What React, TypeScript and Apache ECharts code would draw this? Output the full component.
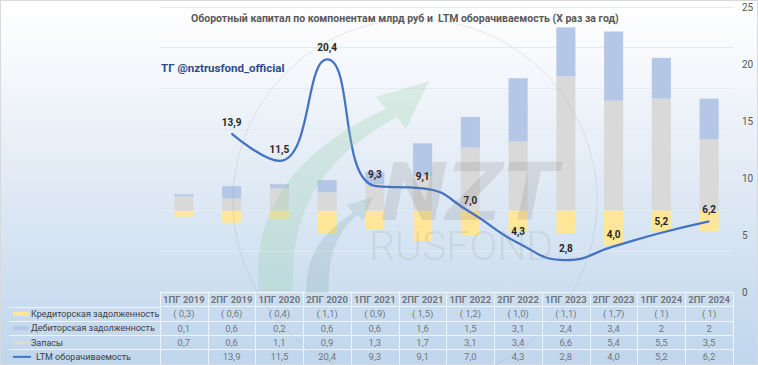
import React, { useEffect, useRef } from 'react';
import * as echarts from 'echarts';

const categories = ['1ПГ 2019', '2ПГ 2019', '1ПГ 2020', '2ПГ 2020', '1ПГ 2021', '2ПГ 2021', '1ПГ 2022', '2ПГ 2022', '1ПГ 2023', '2ПГ 2023', '1ПГ 2024', '2ПГ 2024'];
// Кредиторская задолженность (shown negative)
const payablesText = ['0,3', '0,6', '0,4', '1,1', '0,9', '1,5', '1,2', '1,0', '1,1', '1,7', '1', '1'];
const receivablesText = ['0,1', '0,6', '0,2', '0,6', '0,6', '1,6', '1,5', '3,1', '2,4', '3,4', '2', '2'];
const inventoryText = ['0,7', '0,6', '1,1', '0,9', '1,3', '1,7', '3,1', '3,4', '6,6', '5,4', '5,5', '3,5'];
const turnoverText = ['', '13,9', '11,5', '20,4', '9,3', '9,1', '7,0', '4,3', '2,8', '4,0', '5,2', '6,2'];
const rowNames = ['Кредиторская задолженность', 'Дебиторская задолженность', 'Запасы', 'LTM оборачиваемость'];
const tableRows = ['hdr', 'r0', 'r1', 'r2', 'r3'];

const num = (s: string) => (s === '' ? null : parseFloat(s.replace(',', '.')));
const payables = payablesText.map((s) => -(num(s) as number));
const receivables = receivablesText.map(num);
const inventory = inventoryText.map(num);
const turnover = turnoverText.map(num);

const C_YELLOW = '#FFE699';
const C_BLUE = '#B4C7E7';
const C_GRAY = '#D9D9D9';
const C_LINE = '#4472C4';
const FONT = 'Roboto, "Noto Sans", sans-serif';

echarts.graphic.registerShape(
  'swooshA',
  echarts.graphic.extendPath('M258,290 C250,215 290,150 385,108 L375,96 L428,80 L405,128 L396,116 C318,158 288,215 292,290 Z', {})
);
echarts.graphic.registerShape(
  'swooshB',
  echarts.graphic.extendPath('M305,292 C305,255 320,232 352,212 L346,204 L372,196 L362,220 L357,214 C335,230 326,258 328,292 Z', {})
);

function cellSeries(row: string, texts: string[], opts: any = {}) {
  return {
    type: 'scatter',
    xAxisIndex: 1,
    yAxisIndex: 2,
    symbolSize: 1,
    silent: true,
    itemStyle: { color: 'rgba(0,0,0,0)' },
    data: texts.map((t, i) => ({ value: [i, row], name: t })),
    label: {
      show: true,
      position: 'inside',
      formatter: (p: any) => p.name,
      color: '#595959',
      fontSize: 9.5,
      fontFamily: FONT,
      ...opts,
    },
  };
}

export default function App() {
  const ref = useRef<HTMLDivElement>(null);
  useEffect(() => {
    document.body.style.margin = '0';
    const chart = echarts.init(ref.current!, null, { renderer: 'svg' });
    const gridLine = { show: true, lineStyle: { color: 'rgba(255,255,255,0.7)', width: 1 } };
    const option: any = {
      animation: false,
      title: {
        text: 'Оборотный капитал по компонентам млрд руб и  LTM оборачиваемость (X раз за год)',
        left: 190,
        top: 12,
        padding: 0,
        textStyle: { fontSize: 10.5, fontWeight: 'bold', color: '#595959', fontFamily: FONT },
      },
      grid: [
        { left: 159, right: 24, top: 6, height: 285 },
        { left: 159, right: 24, top: 291, height: 74 },
        { left: 8, width: 151, top: 305.8, height: 59.2 },
      ],
      xAxis: [
        { type: 'category', gridIndex: 0, data: categories, axisLine: { show: false }, axisTick: { show: false }, axisLabel: { show: false } },
        { type: 'category', gridIndex: 1, data: categories, axisLine: { show: false }, axisTick: { show: false }, axisLabel: { show: false }, splitLine: { ...gridLine, interval: 0 } },
        { type: 'value', gridIndex: 2, show: false },
      ],
      yAxis: [
        {
          type: 'value', gridIndex: 0, min: -4, max: 10, interval: 2,
          axisLabel: { show: false }, axisLine: { show: false }, axisTick: { show: false },
          splitLine: { show: true, lineStyle: { color: '#e4eaf2', width: 1 } },
        },
        {
          type: 'value', gridIndex: 0, position: 'right', min: 0, max: 25, interval: 5,
          axisLine: { show: false }, axisTick: { show: false }, splitLine: { show: false },
          axisLabel: { color: '#595959', fontSize: 10, fontFamily: FONT, margin: 9 },
        },
        {
          type: 'category', gridIndex: 1, data: tableRows, inverse: true,
          axisLabel: { show: false }, axisLine: { show: false }, axisTick: { show: false }, splitLine: { ...gridLine, interval: 0 },
        },
        {
          type: 'category', gridIndex: 2, data: rowNames, inverse: true,
          axisLine: { show: false }, axisTick: { show: false }, splitLine: { ...gridLine, interval: 0 },
          axisLabel: {
            inside: true,
            interval: 0,
            margin: 4,
            formatter: (v: string, i: number) => (i === 3 ? `{k3|}{t3|${v}}` : `{k${i}|}{t|${v}}`),
            rich: {
              k0: { width: 16, height: 4, backgroundColor: C_YELLOW },
              k1: { width: 16, height: 4, backgroundColor: C_BLUE },
              k2: { width: 16, height: 4, backgroundColor: C_GRAY },
              k3: { width: 18, height: 2, backgroundColor: C_LINE },
              t: { fontSize: 9, color: '#404040', fontFamily: FONT, padding: [0, 0, 0, 2] },
              t3: { fontSize: 9, color: '#404040', fontFamily: FONT, padding: [0, 0, 0, 5] },
            },
          },
        },
      ],
      series: [
        { name: rowNames[0], type: 'bar', stack: 'wc', data: payables, barWidth: '40%', itemStyle: { color: C_YELLOW } },
        { name: rowNames[2], type: 'bar', stack: 'wc', data: inventory, barWidth: '40%', itemStyle: { color: C_GRAY } },
        { name: rowNames[1], type: 'bar', stack: 'wc', data: receivables, barWidth: '40%', itemStyle: { color: C_BLUE } },
        {
          name: rowNames[3], type: 'line', yAxisIndex: 1, data: turnover, smooth: 0.5,
          symbol: 'circle', symbolSize: 1, showSymbol: true,
          lineStyle: { color: C_LINE, width: 2.25 }, itemStyle: { color: C_LINE }, z: 5,
          label: {
            show: true, position: 'top', distance: 6, color: '#262626', fontSize: 10, fontWeight: 'bold', fontFamily: FONT,
            formatter: (p: any) => (p.value == null ? '' : Number(p.value).toFixed(1).replace('.', ',')),
          },
        },
        cellSeries('hdr', categories, { fontWeight: 'bold' }),
        cellSeries('r0', payablesText.map((s) => `( ${s})`)),
        cellSeries('r1', receivablesText),
        cellSeries('r2', inventoryText),
        cellSeries('r3', turnoverText),
      ],
      graphic: [
        { type: 'circle', z: 50, silent: true, shape: { cx: 414, cy: 200, r: 182 }, style: { fill: 'none', stroke: 'rgba(140,140,140,0.18)', lineWidth: 1 } },
        { type: 'swooshA', z: 50, silent: true, x: 0, y: 0, style: { fill: 'rgba(150,210,170,0.28)' } },
        { type: 'swooshB', z: 50, silent: true, x: 0, y: 0, style: { fill: 'rgba(110,160,150,0.2)' } },
        {
          type: 'text', z: 50, silent: true, x: 380, y: 150, scaleX: 1.15,
          style: { text: 'NZT', font: 'italic bold 82px Roboto, sans-serif', fill: 'rgba(110,110,110,0.17)' },
        },
        {
          type: 'text', z: 50, silent: true, x: 368, y: 224,
          style: { text: 'RUSFOND', font: '300 41px Roboto, sans-serif', fill: 'rgba(140,140,140,0.16)' },
        },
        {
          type: 'text', z: 60, silent: true, x: 160, y: 61,
          style: { text: 'ТГ @nztrusfond_official', font: 'bold 11.5px Roboto, sans-serif', fill: '#2B4C8C' },
        },
      ],
    };
    chart.setOption(option);
    return () => chart.dispose();
  }, []);
  return (
    <div
      ref={ref}
      style={{
        width: 758,
        height: 365,
        boxSizing: 'border-box',
        border: '1px solid #d9d9d9',
        background: 'linear-gradient(to bottom, #ffffff 0%, #f3f6fb 22%, #dde8f4 55%, #bfd6ed 100%)',
      }}
    />
  );
}
